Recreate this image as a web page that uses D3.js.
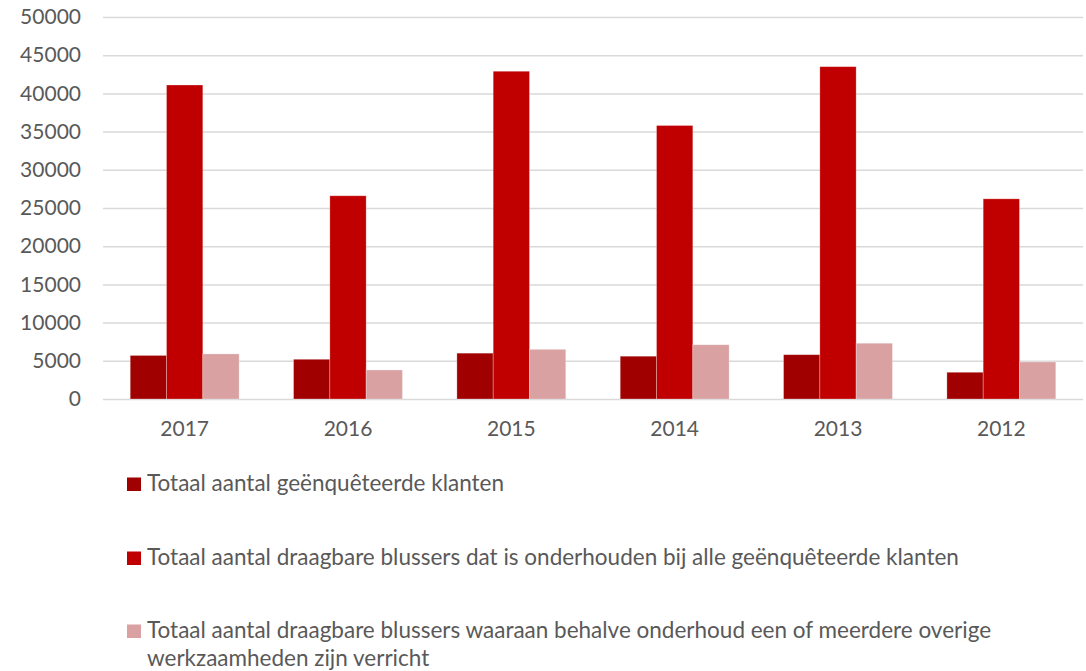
<!DOCTYPE html>
<html>
<head>
<meta charset="utf-8">
<script src="https://cdn.jsdelivr.net/npm/d3@7"></script>
<style>
  html, body { margin: 0; padding: 0; background: #fff; overflow: hidden; }
  svg text { font-family: Lato, "Open Sans", sans-serif; fill: #595959; }
</style>
</head>
<body>
<div id="chart"></div>
<script>
// Jaren (categorieen)
const years = ['2017', '2016', '2015', '2014', '2013', '2012'];

// Reeksen
const seriesNames = [
    'Totaal aantal geënquêteerde klanten',
    'Totaal aantal draagbare blussers dat is onderhouden bij alle geënquêteerde klanten',
    'Totaal aantal draagbare blussers waaraan behalve onderhoud een of meerdere overige werkzaamheden zijn verricht'
];
const klanten = [5700, 5200, 6000, 5600, 5800, 3500];
const onderhouden = [41100, 26600, 42900, 35800, 43500, 26200];
const overige = [5900, 3800, 6500, 7100, 7300, 4850];

const yTicks = [0, 5000, 10000, 15000, 20000, 25000, 30000, 35000, 40000, 45000, 50000];
const colors = ['#a00000', '#c00000', '#d9a1a1'];

const width = 1086;
const height = 671;
const plotLeft = 103, plotRight = 1083, plotTop = 17, plotBottom = 399;

const svg = d3.select('#chart')
    .append('svg')
    .attr('width', width)
    .attr('height', height)
    .style('display', 'block');

const y = d3.scaleLinear()
    .domain([0, 50000])
    .range([plotBottom, plotTop]);

const x0 = d3.scaleBand()
    .domain(years)
    .range([plotLeft, plotRight])
    .paddingInner(1 / 3)
    .paddingOuter(1 / 6);

const x1 = d3.scaleBand()
    .domain([0, 1, 2])
    .range([0, x0.bandwidth()]);

// Rasterlijnen + labels y-as
const yAxis = d3.axisLeft(y)
    .tickValues(yTicks)
    .tickSize(-(plotRight - plotLeft))
    .tickPadding(22)
    .tickFormat(d3.format('d'));

svg.append('g')
    .attr('transform', `translate(${plotLeft},0)`)
    .call(yAxis)
    .call(g => g.select('.domain').remove())
    .call(g => g.selectAll('.tick line').attr('stroke', '#d9d9d9').attr('stroke-width', 1.5))
    .call(g => g.selectAll('.tick text').style('font-size', '21px').attr('fill', '#595959'));

// Staven
const rows = years.map((yr, i) => ({ year: yr, values: [klanten[i], onderhouden[i], overige[i]] }));

svg.append('g')
    .selectAll('g')
    .data(rows)
    .enter()
    .append('g')
    .attr('transform', d => `translate(${x0(d.year)},0)`)
    .selectAll('rect')
    .data(d => d.values.map((v, k) => ({ k: k, v: v })))
    .enter()
    .append('rect')
    .attr('x', d => x1(d.k))
    .attr('y', d => y(d.v))
    .attr('width', x1.bandwidth())
    .attr('height', d => y(0) - y(d.v))
    .attr('fill', d => colors[d.k])
    .attr('stroke', 'rgba(255,255,255,0.35)')
    .attr('stroke-width', 0.8);

// x-as labels
const xAxis = d3.axisBottom(x0).tickSize(0).tickPadding(22);
svg.append('g')
    .attr('transform', `translate(0,${plotBottom})`)
    .call(xAxis)
    .call(g => g.select('.domain').remove())
    .call(g => g.selectAll('.tick text').style('font-size', '21px').attr('fill', '#595959'));

// Legenda
const legendLines = [
    [seriesNames[0]],
    [seriesNames[1]],
    ['Totaal aantal draagbare blussers waaraan behalve onderhoud een of meerdere overige',
     'werkzaamheden zijn verricht']
];
const legendY = [491, 565, 638];

const legend = svg.append('g');
legendLines.forEach((lines, i) => {
    const item = legend.append('g').attr('transform', `translate(127,${legendY[i]})`);
    item.append('rect')
        .attr('x', 0)
        .attr('y', -13.5)
        .attr('width', 14)
        .attr('height', 13.5)
        .attr('fill', colors[i]);
    lines.forEach((t, j) => {
        item.append('text')
            .attr('x', 20)
            .attr('y', j * 28)
            .style('font-size', '22.5px')
            .text(t);
    });
});
</script>
</body>
</html>
